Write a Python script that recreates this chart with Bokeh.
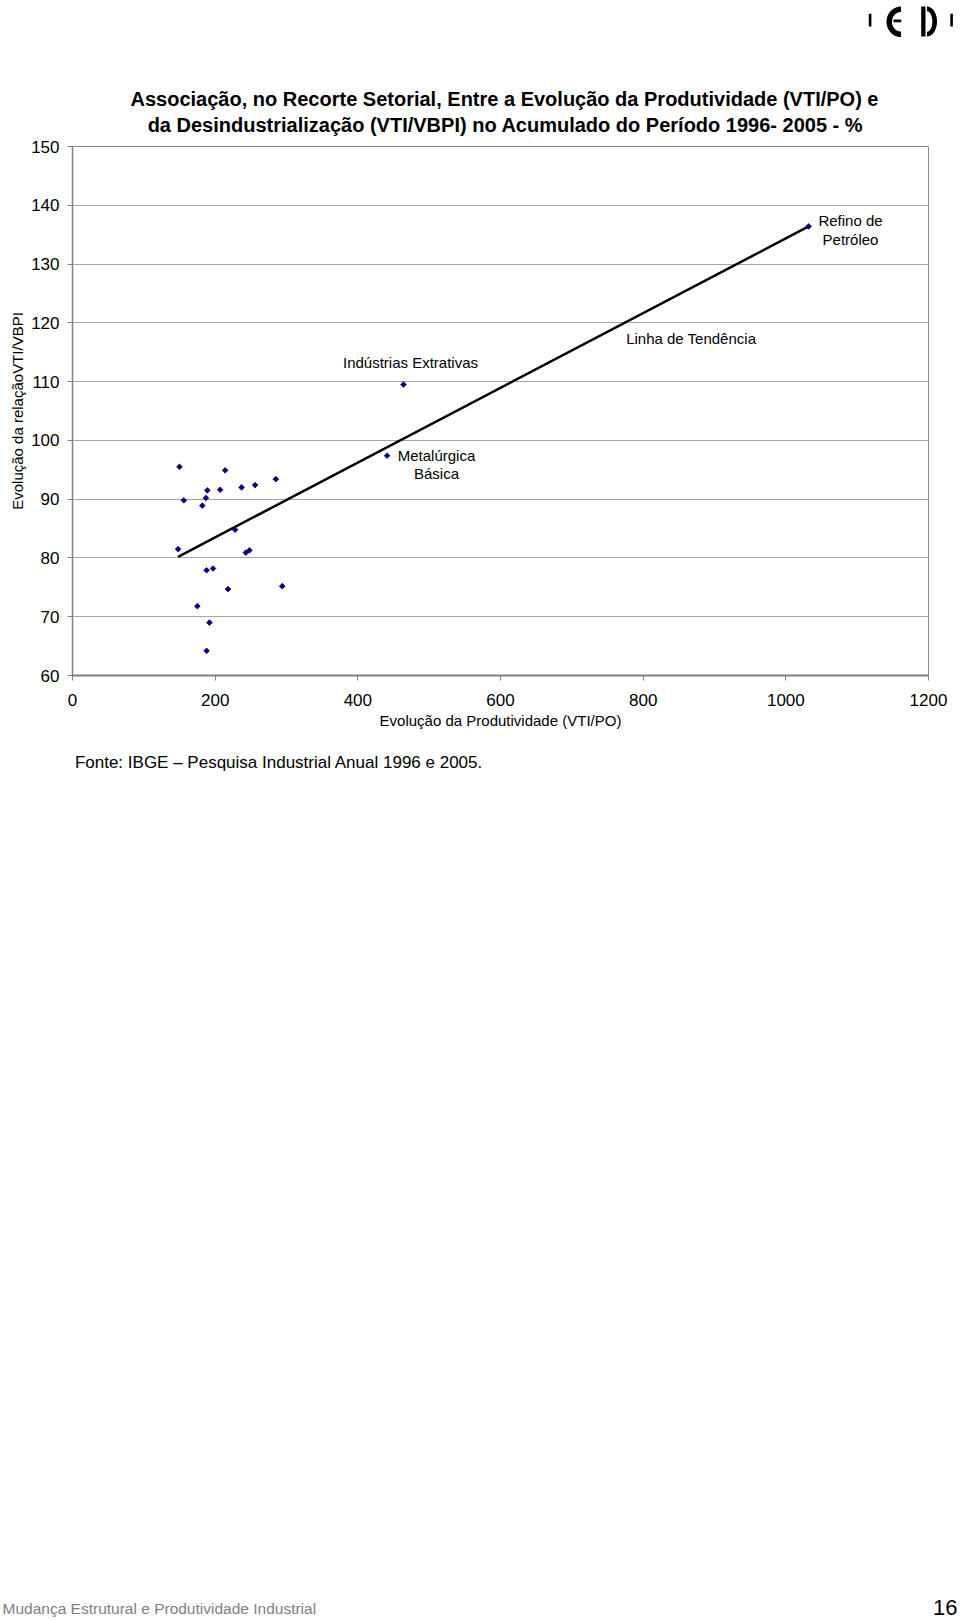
import math
from bokeh.plotting import figure
from bokeh.layouts import column
from bokeh.models import Range1d, FixedTicker, Label
from bokeh.embed import file_html
from bokeh.resources import INLINE

# ---------------- data ----------------
sector_x = [150, 156, 214, 189, 187, 182, 207, 237, 256, 285, 228, 148,
            243, 248, 188, 197, 218, 294, 175, 192, 188, 464, 441, 1032]
sector_y = [95.5, 89.8, 94.9, 91.5, 90.2, 88.9, 91.6, 92.0, 92.4, 93.4, 84.8, 81.5,
            80.9, 81.3, 77.9, 78.2, 74.7, 75.2, 71.8, 69.0, 64.2, 109.5, 97.4, 136.4]
trend_x = [148, 1032]
trend_y = [80.2, 136.4]
x_ticks = [0, 200, 400, 600, 800, 1000, 1200]
y_ticks = [60, 70, 80, 90, 100, 110, 120, 130, 140, 150]
title_lines = ["Associação, no Recorte Setorial, Entre a Evolução da Produtividade (VTI/PO) e",
               "da Desindustrialização (VTI/VBPI) no Acumulado do Período 1996- 2005 - %"]
x_label = "Evolução da Produtividade (VTI/PO)"
y_label = "Evolução da relaçãoVTI/VBPI"
point_notes = ["Indústrias Extrativas", "Metalúrgica", "Básica", "Refino de", "Petróleo"]
trend_note = "Linha de Tendência"
source_note = "Fonte: IBGE – Pesquisa Industrial Anual 1996 e 2005."
footer_text = "Mudança Estrutural e Produtividade Industrial"
page_number = "16"

# ---------------- layout constants (page pixels) ----------------
PAGE_W = 960
TOP_H = 138          # logo + title strip
MAIN_H = 602         # chart strip
BOT_H = 1620 - TOP_H - MAIN_H
FL, FT, FW, FH = 72, 146, 856, 529   # chart frame in page pixels
X0, X1, Y0, Y1 = 0, 1200, 60, 150
FONT = "Liberation Sans"


def text_strip(height, y_start):
    f = figure(width=PAGE_W, height=height, x_range=Range1d(0, PAGE_W),
               y_range=Range1d(y_start + height, y_start),
               output_backend="svg", toolbar_location=None,
               x_axis_type=None, y_axis_type=None, min_border=0)
    f.min_border_left = f.min_border_right = f.min_border_top = f.min_border_bottom = 0
    f.frame_align = False
    f.outline_line_color = None
    f.grid.visible = False
    f.background_fill_color = "white"
    f.border_fill_color = "white"
    return f


def put(fig, x, y, text, size, align="center", baseline="middle", style="normal",
        font=FONT, color="black"):
    fig.add_layout(Label(x=x, y=y, text=text, text_font=font,
                         text_font_size=f"{size}px", text_font_style=style,
                         text_color=color, text_align=align, text_baseline=baseline))


# ---------------- top strip: logo and title ----------------
top = text_strip(TOP_H, 0)
put(top, 504, 98.5, title_lines[0], 20, style="bold")
put(top, 505, 124, title_lines[1], 20, style="bold")

# logo: bars and two half rings
top.quad(left=[868.3, 893.0, 920.7, 949.8], right=[870.9, 900.7, 925.0, 952.4],
         top=[13.3, 19.0, 6.0, 13.3], bottom=[26.0, 21.8, 36.0, 26.0],
         fill_color="black", line_color=None)


def half_ring(cx, cy, rxo, ryo, rxi, ryi, a0, a1, n=40):
    ts = [math.radians(a0 + (a1 - a0) * i / n) for i in range(n + 1)]
    xs = [cx + rxo * math.cos(t) for t in ts] + [cx + rxi * math.cos(t) for t in reversed(ts)]
    ys = [cy + ryo * math.sin(t) for t in ts] + [cy + ryi * math.sin(t) for t in reversed(ts)]
    return xs, ys


cxs, cys = half_ring(900.5, 21.3, 14.5, 15.3, 9.0, 9.8, 90, 270)
dxs, dys = half_ring(926.5, 21.0, 10.0, 15.0, 5.3, 10.2, -90, 90)
top.patches([cxs, dxs], [cys, dys], fill_color="black", line_color=None)

# ---------------- main chart ----------------
p = figure(width=PAGE_W, height=MAIN_H, x_range=Range1d(X0, X1), y_range=Range1d(Y0, Y1),
           output_backend="svg", toolbar_location=None,
           min_border_left=FL, min_border_top=FT - TOP_H,
           min_border_right=PAGE_W - FL - FW,
           min_border_bottom=MAIN_H - (FT - TOP_H) - FH)
p.frame_align = False
p.background_fill_color = "white"
p.border_fill_color = "white"
p.outline_line_color = "#8c8c8c"
p.outline_line_width = 1

p.xgrid.visible = False
p.ygrid.grid_line_color = "#a6a6a6"
p.ygrid.grid_line_width = 1
p.xaxis.ticker = FixedTicker(ticks=x_ticks)
p.yaxis.ticker = FixedTicker(ticks=y_ticks)

for ax in (p.xaxis, p.yaxis):
    ax.axis_line_color = "#808080"
    ax.major_tick_line_color = "#808080"
    ax.major_tick_out = 5
    ax.major_tick_in = 0
    ax.minor_tick_line_color = None
    ax.major_label_text_font = FONT
    ax.major_label_text_font_size = "17px"
    ax.major_label_text_color = "black"
    ax.axis_label_text_font = FONT
    ax.axis_label_text_font_size = "15px"
    ax.axis_label_text_font_style = "normal"
    ax.axis_label_text_color = "black"

p.xaxis.axis_line_width = 2
p.yaxis.axis_line_width = 1.5
p.xaxis.major_label_standoff = 13
p.yaxis.major_label_standoff = 8
p.xaxis.axis_label = x_label
p.yaxis.axis_label = y_label
p.xaxis.axis_label_standoff = 3
p.yaxis.axis_label_standoff = 2

p.line(trend_x, trend_y, line_color="black", line_width=2.5)
p.scatter(sector_x, sector_y, marker="square", angle=math.pi / 4, size=4,
          fill_color="#000080", line_color="#000080", line_width=0.8)


def X(px):
    return X0 + (X1 - X0) * (px - FL) / FW


def Y(py):
    return Y0 + (Y1 - Y0) * (FT + FH - py) / FH


put(p, X(410), Y(361.7), point_notes[0], 15)
put(p, X(436), Y(454.5), point_notes[1], 15)
put(p, X(436), Y(473.3), point_notes[2], 15)
put(p, X(850), Y(220), point_notes[3], 15)
put(p, X(850), Y(238.7), point_notes[4], 15)
put(p, X(690.7), Y(338), trend_note, 15)

# ---------------- bottom strip: source and footer ----------------
bot = text_strip(BOT_H, TOP_H + MAIN_H)
put(bot, 74.4, 761.6, source_note, 17, align="left")
put(bot, 2, 1608, footer_text, 15.5, align="left", color="#808080")
put(bot, 957, 1607, page_number, 22, align="right")

layout = column(top, p, bot, spacing=0)
open("out.html", "w").write(file_html(layout, INLINE))
